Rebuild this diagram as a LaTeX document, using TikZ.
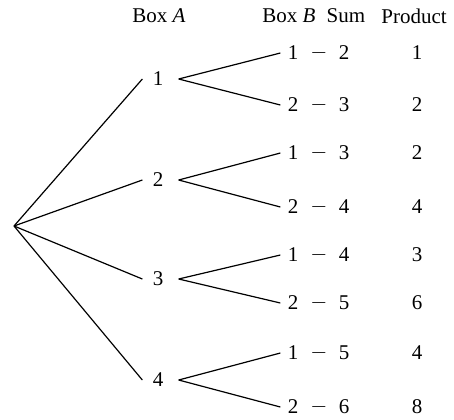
\documentclass[tikz,border=0pt]{standalone}
\usepackage{fontspec}
\setmainfont{LiberationSerif}[Extension=.ttf, UprightFont=*-Regular, ItalicFont=*-Italic, BoldFont=*-Bold]
\usetikzlibrary{positioning}
\tikzset{
  lbl/.style={inner sep=0pt, font=\fontsize{10.5}{12}\selectfont},
  boxa/.style={lbl, inner xsep=5pt},
  boxb/.style={lbl, inner xsep=3.5pt},
  line/.style={line width=0.6pt}
}
\begin{document}
\begin{tikzpicture}[x=0.5pt, y=-0.5pt]
  \useasboundingbox (0,0) rectangle (454,419);
  % column heads
  \node[lbl] (headA) at (159,16) {Box \textit{A}};
  \node[lbl] (headB) at (289,16) {Box \textit{B}};
  \node[lbl] (headS) at (346,16) {Sum};
  \node[lbl] (headP) at (414,16) {Product};
  \coordinate (root) at (14,226);
  % first draw
  \foreach \i/\y in {1/79,2/180,3/279,4/380}{
    \node[boxa] (a\i) at (158,\y) {\i};
    \draw[line] (root) -- (a\i.west);
  }
  % second draw, sum and product
  \foreach \i/\j/\y/\b/\s/\p in {1/1/53/1/2/1, 1/2/105/2/3/2, 2/1/153/1/3/2, 2/2/207/2/4/4,
      3/1/255/1/4/3, 3/2/303/2/5/6, 4/1/353/1/5/4, 4/2/407/2/6/8}{
    \node[boxb] (b\i\j) at (293,\y) {\b};
    \node[lbl] (dash\i\j) at (319,\y) {$-$};
    \node[lbl] (sum\i\j) at (344,\y) {\s};
    \node[lbl] (prod\i\j) at (417,\y) {\p};
    \draw[line] ([xshift=2.5pt]a\i.east) -- (b\i\j.west);
  }
\end{tikzpicture}
\end{document}
